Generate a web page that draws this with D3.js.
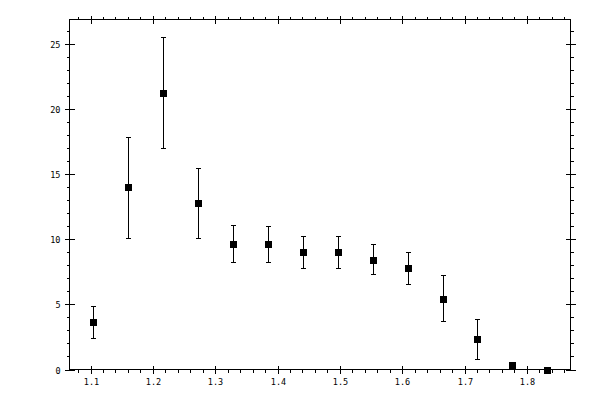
<!DOCTYPE html>
<html>
<head>
<meta charset="utf-8">
<script src="https://cdn.jsdelivr.net/npm/d3@7"></script>
<style>
  body { margin: 0; background: #fff; }
  text { font-family: "DejaVu Sans Mono", monospace; font-size: 8.5px; fill: #000; }
</style>
</head>
<body>
<script>
// data
var xVals = [1.1037, 1.1598, 1.2159, 1.272, 1.3281, 1.3842, 1.4403, 1.4964, 1.5525, 1.6086, 1.6647, 1.7208, 1.7769, 1.833];
var yVals = [3.69, 14.0, 21.3, 12.77, 9.69, 9.62, 9.0, 9.0, 8.46, 7.77, 5.46, 2.31, 0.38, 0.0];
var yLow  = [2.46, 10.15, 17.0, 10.15, 8.23, 8.23, 7.77, 7.77, 7.33, 6.54, 3.72, 0.79, 0.38, 0.0];
var yHigh = [4.92, 17.85, 25.6, 15.46, 11.12, 11.0, 10.3, 10.23, 9.62, 9.05, 7.23, 3.92, 0.38, 0.0];

var xMajor = [1.1, 1.2, 1.3, 1.4, 1.5, 1.6, 1.7, 1.8];
var xMinor = d3.range(1.08, 1.87, 0.02);
var yMajor = [0, 5, 10, 15, 20, 25];
var yMinor = d3.range(0, 27, 1);

var width = 600, height = 400;
var pLeft = 69.5, pRight = 570.5, pTop = 19.5, pBottom = 369.5;

var svg = d3.select("body").append("svg")
    .attr("width", width)
    .attr("height", height);

var x = d3.scaleLinear().domain([1.0663, 1.8700]).range([pLeft, pRight]);
var y = d3.scaleLinear().domain([0, 26.92]).range([pBottom, pTop]);

var g = svg.append("g")
    .attr("stroke", "#000")
    .attr("stroke-width", 1)
    .attr("shape-rendering", "crispEdges");

// frame
g.append("rect")
    .attr("x", pLeft).attr("y", pTop)
    .attr("width", pRight - pLeft).attr("height", pBottom - pTop)
    .attr("fill", "none");

// minor ticks, outside the frame
xMinor.forEach(function(v) {
    if (xMajor.some(function(m) { return Math.abs(m - v) < 1e-6; })) return;
    var px = Math.round(x(v)) + 0.5;
    g.append("line").attr("x1", px).attr("x2", px).attr("y1", pBottom).attr("y2", pBottom + 3);
    g.append("line").attr("x1", px).attr("x2", px).attr("y1", pTop).attr("y2", pTop - 3);
});
yMinor.forEach(function(v) {
    if (yMajor.indexOf(v) >= 0) return;
    var py = Math.round(y(v)) + 0.5;
    g.append("line").attr("x1", pLeft).attr("x2", pLeft - 3).attr("y1", py).attr("y2", py);
    g.append("line").attr("x1", pRight).attr("x2", pRight + 3).attr("y1", py).attr("y2", py);
});

// major ticks cross the frame
xMajor.forEach(function(v) {
    var px = Math.round(x(v)) + 0.5;
    g.append("line").attr("x1", px).attr("x2", px).attr("y1", pBottom - 4).attr("y2", pBottom + 4);
    g.append("line").attr("x1", px).attr("x2", px).attr("y1", pTop - 4).attr("y2", pTop + 4);
    svg.append("text")
        .attr("x", px).attr("y", pBottom + 15)
        .attr("text-anchor", "middle")
        .text(d3.format(".1f")(v));
});
yMajor.forEach(function(v) {
    var py = Math.round(y(v)) + 0.5;
    g.append("line").attr("x1", pLeft - 5).attr("x2", pLeft + 5).attr("y1", py).attr("y2", py);
    g.append("line").attr("x1", pRight - 5).attr("x2", pRight + 5).attr("y1", py).attr("y2", py);
    svg.append("text")
        .attr("x", pLeft - 9).attr("y", py + 3)
        .attr("text-anchor", "end")
        .text(v);
});

// error bars
var idx = d3.range(xVals.length).filter(function(i) { return yHigh[i] > yLow[i]; });
var bars = g.selectAll(".err")
    .data(idx)
    .enter().append("g")
    .attr("class", "err");

bars.append("line")
    .attr("x1", function(i) { return Math.round(x(xVals[i])) + 0.5; })
    .attr("x2", function(i) { return Math.round(x(xVals[i])) + 0.5; })
    .attr("y1", function(i) { return Math.round(y(yLow[i])) + 0.5; })
    .attr("y2", function(i) { return Math.round(y(yHigh[i])) + 0.5; });
bars.append("line")
    .attr("x1", function(i) { return Math.round(x(xVals[i])) - 2; })
    .attr("x2", function(i) { return Math.round(x(xVals[i])) + 3; })
    .attr("y1", function(i) { return Math.round(y(yLow[i])) + 0.5; })
    .attr("y2", function(i) { return Math.round(y(yLow[i])) + 0.5; });
bars.append("line")
    .attr("x1", function(i) { return Math.round(x(xVals[i])) - 2; })
    .attr("x2", function(i) { return Math.round(x(xVals[i])) + 3; })
    .attr("y1", function(i) { return Math.round(y(yHigh[i])) + 0.5; })
    .attr("y2", function(i) { return Math.round(y(yHigh[i])) + 0.5; });

// square markers
svg.selectAll(".pt")
    .data(xVals)
    .enter().append("rect")
    .attr("class", "pt")
    .attr("x", function(d) { return Math.round(x(d)) - 3; })
    .attr("y", function(d, i) { return Math.round(y(yVals[i])) - 3; })
    .attr("width", 7)
    .attr("height", 7)
    .attr("fill", "#000")
    .attr("shape-rendering", "crispEdges");
</script>
</body>
</html>
